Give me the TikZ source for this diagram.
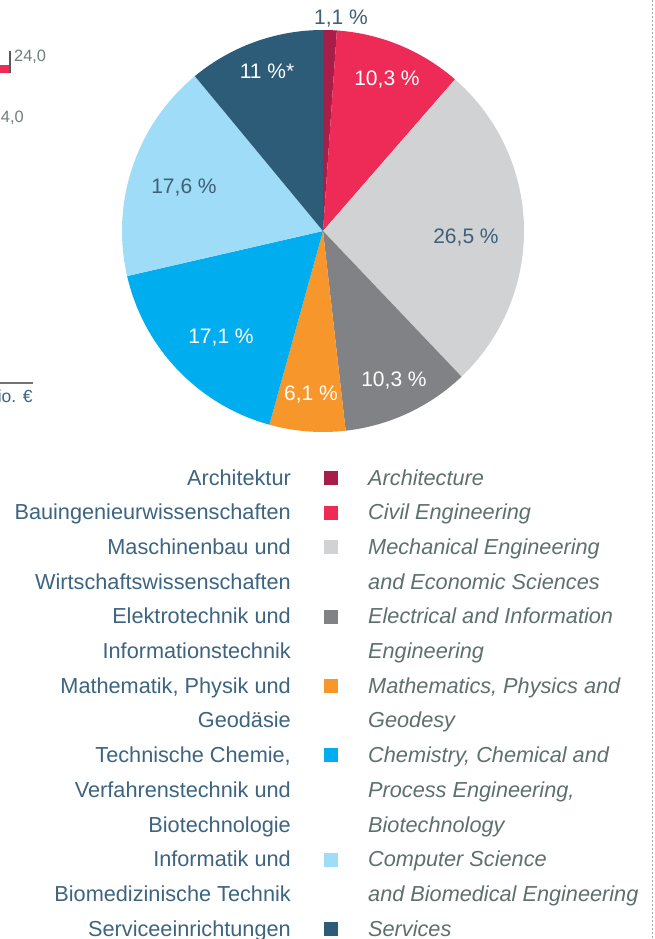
\documentclass[tikz,border=0pt]{standalone}
\usepackage{fontspec}
\setmainfont{Liberation Sans}
\definecolor{carch}{HTML}{A71E48}
\definecolor{cciv}{HTML}{EE2A57}
\definecolor{cmech}{HTML}{D1D2D4}
\definecolor{celec}{HTML}{808285}
\definecolor{cmath}{HTML}{F7962B}
\definecolor{cchem}{HTML}{00AEEF}
\definecolor{ccomp}{HTML}{9EDCF7}
\definecolor{cserv}{HTML}{2C5C78}
\definecolor{tde}{HTML}{3D6481}
\definecolor{ten}{HTML}{5E706D}
\definecolor{tpie}{HTML}{3E6079}
\definecolor{tnum}{HTML}{6F7F7C}
\begin{document}
\begin{tikzpicture}[x=1pt,y=-1pt,
  de/.style={anchor=base east,inner sep=0pt,text=tde,font=\fontsize{21.7}{26}\selectfont},
  en/.style={anchor=base west,inner sep=0pt,text=ten,font=\fontsize{21.7}{26}\selectfont\itshape},
  plab/.style={anchor=base,inner sep=0pt,font=\fontsize{21}{25}\selectfont},
  sq/.style={minimum width=14pt,minimum height=14pt,inner sep=0pt,anchor=south west}]
\useasboundingbox (0,0) rectangle (654,939);
\fill[white] (0,0) rectangle (654,939);
\clip (0,0) rectangle (654,939);
% pie
\begin{scope}[shift={(323,231)},yscale=-1]
\coordinate (c) at (0,0);
\foreach \a/\b/\col in {90/86.04/carch, 86.04/48.96/cciv, 48.96/-46.44/cmech, -46.44/-83.52/celec, -83.52/-105.48/cmath, -105.48/-167.04/cchem, 192.96/129.6/ccomp, 129.6/90/cserv}
  \fill[\col] (c) -- (\a:201) arc[start angle=\a,end angle=\b,radius=201] -- cycle;
\end{scope}
\node[plab,text=tpie] (p1) at (341,25) {1,1 \%};
\node[plab,text=white] (p2) at (387,86) {10,3 \%};
\node[plab,text=tpie] (p3) at (466,243) {26,5 \%};
\node[plab,text=white] (p4) at (394,386) {10,3 \%};
\node[plab,text=white] (p5) at (311,400) {6,1 \%};
\node[plab,text=white] (p6) at (221,343) {17,1 \%};
\node[plab,text=tpie] (p7) at (184,193) {17,6 \%};
\node[plab,text=white] (p8) at (267,79) {11 \%*};
% fragments at left
\fill[cciv] (0,65) rectangle (9.5,72.7);
\draw[line width=1.3pt,black!65] (10,50.7) -- (10,73.3);
\node[anchor=base west,inner sep=0pt,text=tnum,font=\fontsize{16.4}{20}\selectfont] (n1) at (14,62) {24,0};
\node[anchor=base east,inner sep=0pt,text=tnum,font=\fontsize{16.4}{20}\selectfont] (n2) at (24,122) {24,0};
\draw[line width=2pt,black!55] (0,383) -- (32.7,383);
\node[anchor=base east,inner sep=0pt,text=tde,font=\fontsize{17.5}{20}\selectfont] (mio) at (32.7,402.7) {Mio. €};
% right dashed border
\draw[black!35,line width=0.8pt,dash pattern=on 2pt off 2pt] (652.5,0) -- (652.5,939);
% legend
\def\rb#1{485+34.7*(#1-1)}
\node[de] (d1) at (291,{\rb{1}}) {Architektur};
\node[de] (d2) at (291,{\rb{2}}) {Bauingenieurwissenschaften};
\node[de] (d3) at (291,{\rb{3}}) {Maschinenbau und};
\node[de] (d4) at (291,{\rb{4}}) {Wirtschaftswissenschaften};
\node[de] (d5) at (291,{\rb{5}}) {Elektrotechnik und};
\node[de] (d6) at (291,{\rb{6}}) {Informationstechnik};
\node[de] (d7) at (291,{\rb{7}}) {Mathematik, Physik und};
\node[de] (d8) at (291,{\rb{8}}) {Geodäsie};
\node[de] (d9) at (291,{\rb{9}}) {Technische Chemie,};
\node[de] (d10) at (291,{\rb{10}}) {Verfahrenstechnik und};
\node[de] (d11) at (291,{\rb{11}}) {Biotechnologie};
\node[de] (d12) at (291,{\rb{12}}) {Informatik und};
\node[de] (d13) at (291,{\rb{13}}) {Biomedizinische Technik};
\node[de] (d14) at (291,{\rb{14}}) {Serviceeinrichtungen};
\node[en] (e1) at (368,{\rb{1}}) {Architecture};
\node[en] (e2) at (368,{\rb{2}}) {Civil Engineering};
\node[en] (e3) at (368,{\rb{3}}) {Mechanical Engineering};
\node[en] (e4) at (368,{\rb{4}}) {and Economic Sciences};
\node[en] (e5) at (368,{\rb{5}}) {Electrical and Information};
\node[en] (e6) at (368,{\rb{6}}) {Engineering};
\node[en] (e7) at (368,{\rb{7}}) {Mathematics, Physics and};
\node[en] (e8) at (368,{\rb{8}}) {Geodesy};
\node[en] (e9) at (368,{\rb{9}}) {Chemistry, Chemical and};
\node[en] (e10) at (368,{\rb{10}}) {Process Engineering,};
\node[en] (e11) at (368,{\rb{11}}) {Biotechnology};
\node[en] (e12) at (368,{\rb{12}}) {Computer Science};
\node[en] (e13) at (368,{\rb{13}}) {and Biomedical Engineering};
\node[en] (e14) at (368,{\rb{14}}) {Services};
\node[sq,fill=carch] (s1) at (324,{\rb{1}}) {};
\node[sq,fill=cciv] (s2) at (324,{\rb{2}}) {};
\node[sq,fill=cmech] (s3) at (324,{\rb{3}}) {};
\node[sq,fill=celec] (s5) at (324,{\rb{5}}) {};
\node[sq,fill=cmath] (s7) at (324,{\rb{7}}) {};
\node[sq,fill=cchem] (s9) at (324,{\rb{9}}) {};
\node[sq,fill=ccomp] (s12) at (324,{\rb{12}}) {};
\node[sq,fill=cserv] (s14) at (324,{\rb{14}}) {};
\end{tikzpicture}
\end{document}
